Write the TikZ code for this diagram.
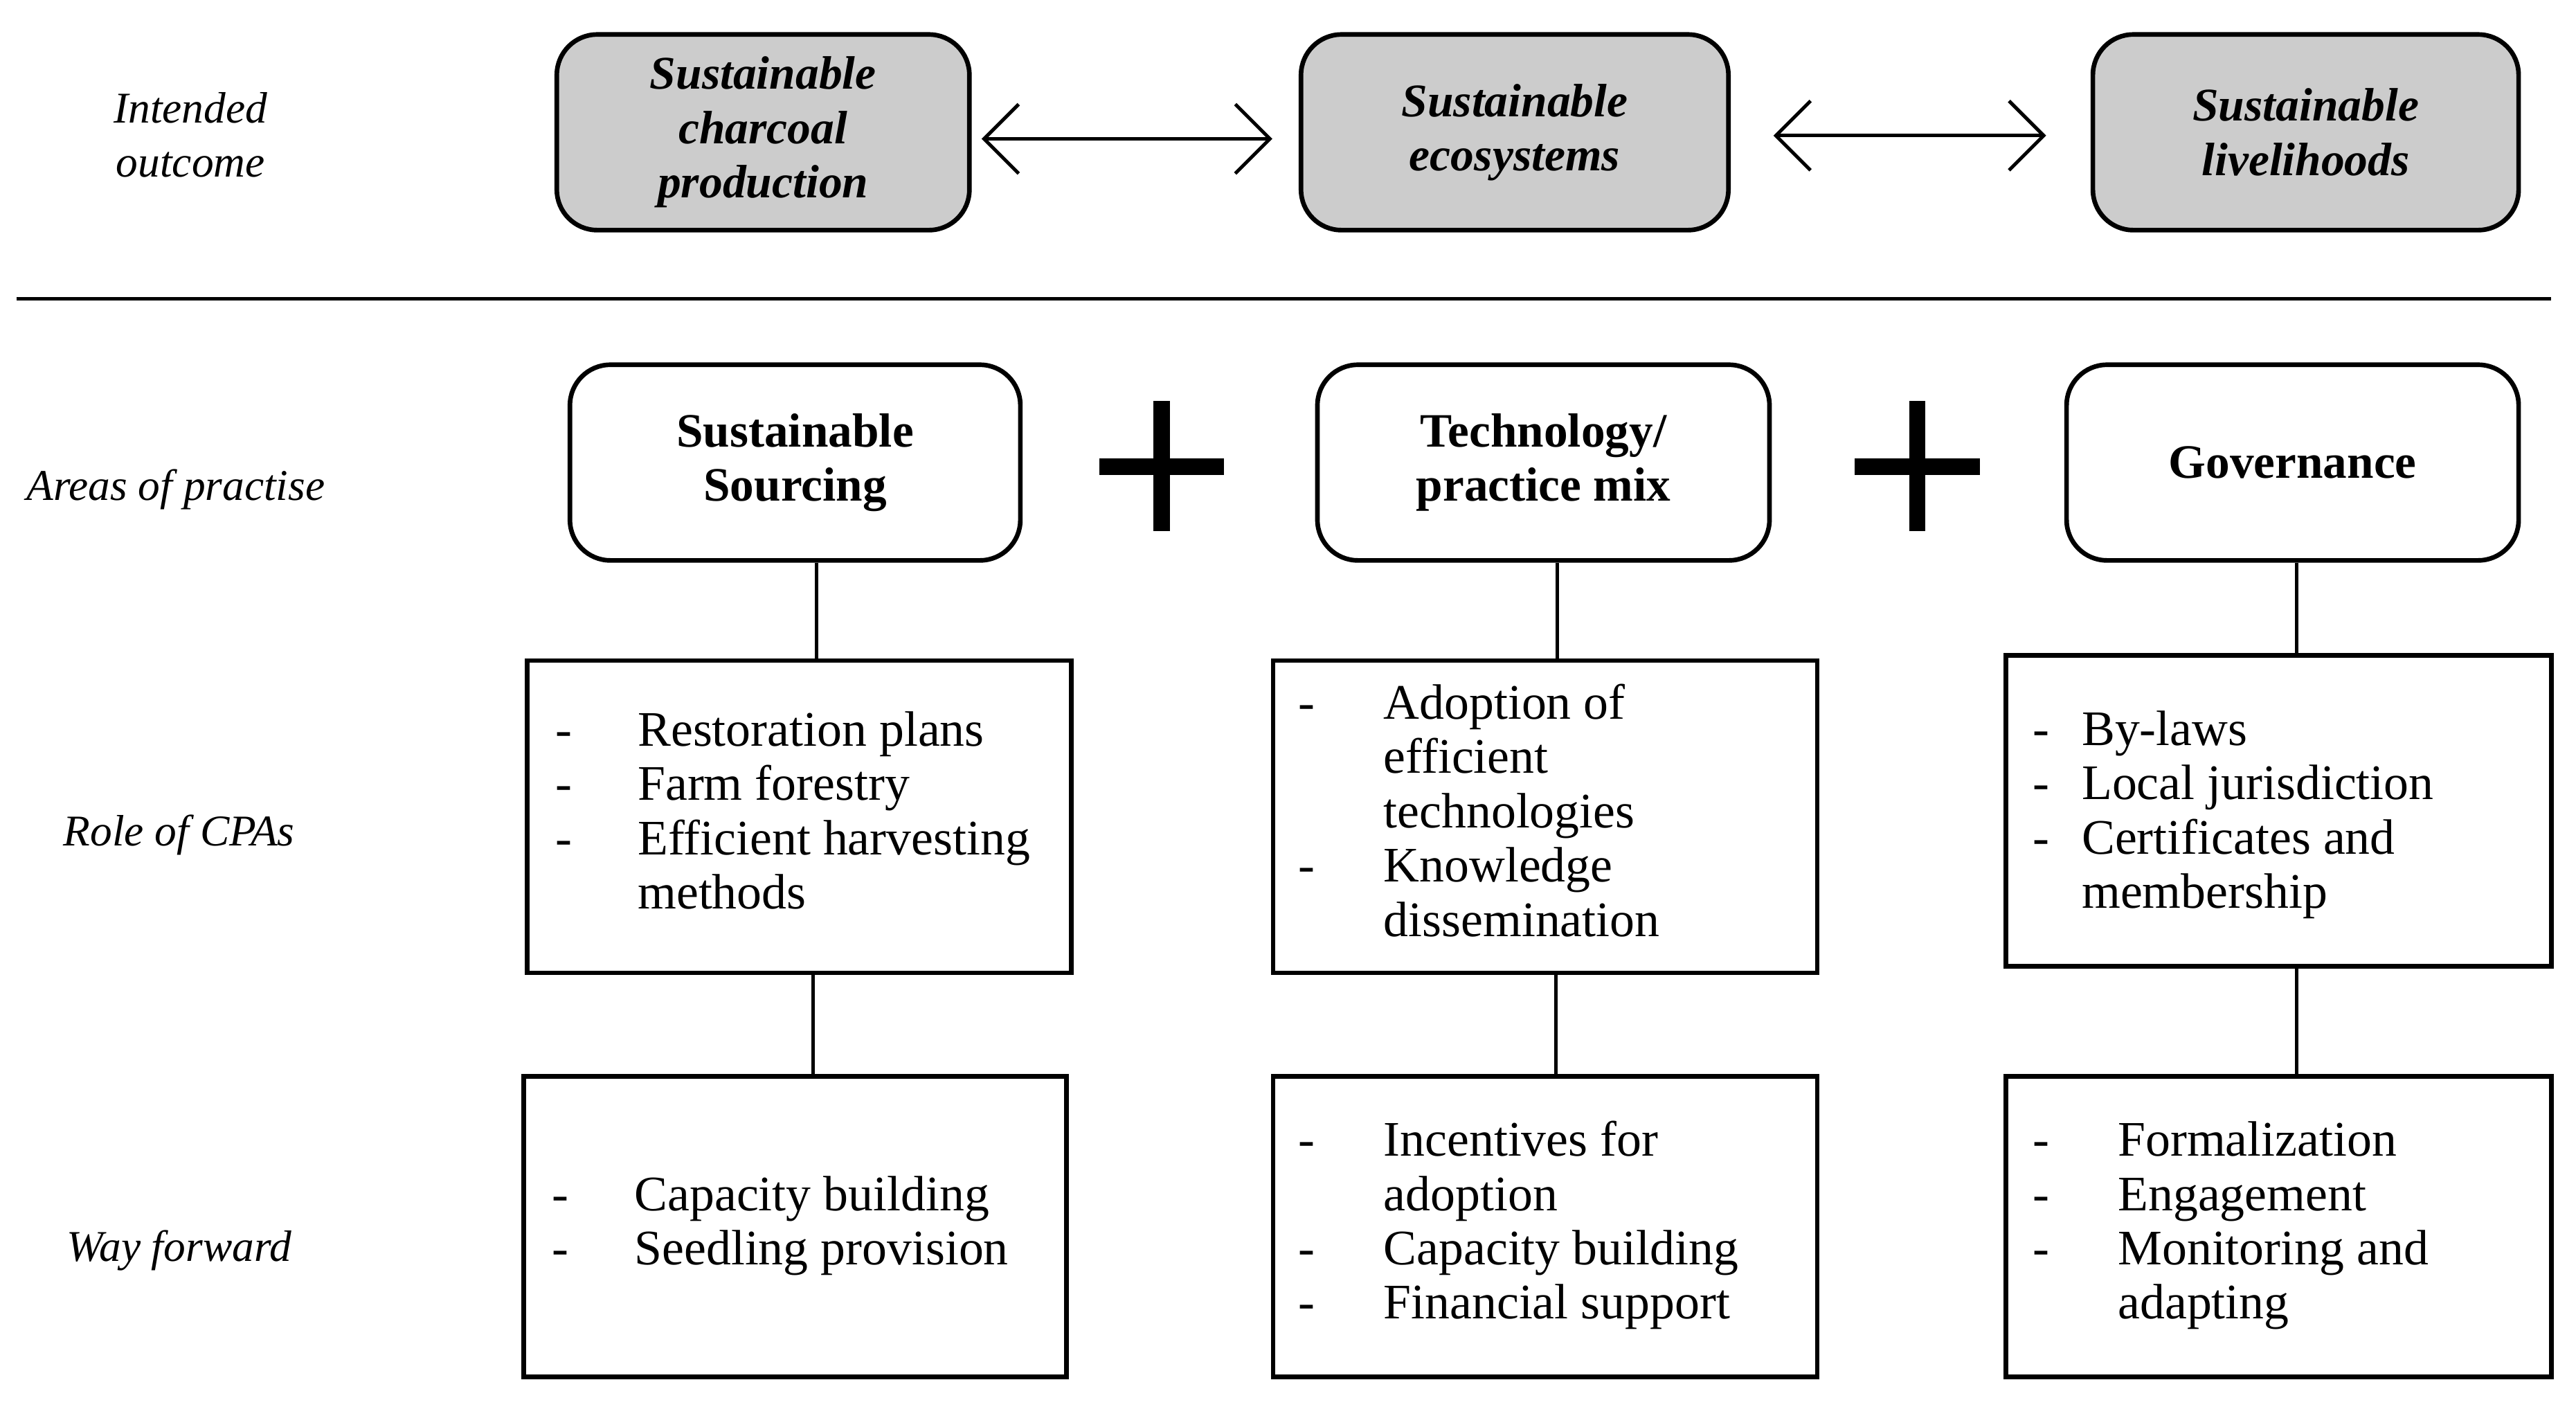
\documentclass[tikz,border=0pt]{standalone}
\usepackage{fontspec}
\setmainfont{Liberation Serif}
\usetikzlibrary{arrows.meta}
\begin{document}
\begin{tikzpicture}[x=0.01cm,y=-0.01cm,
  every node/.style={font=\fontsize{8.6}{9.4}\selectfont, inner sep=0pt},
  gbox/.style={draw, line width=0.8pt, rounded corners=7pt, fill=black!20, align=center, font=\fontsize{8.1}{9.4}\selectfont\bfseries\itshape},
  abox/.style={draw, line width=0.8pt, rounded corners=7pt, align=center, font=\fontsize{8.3}{9.4}\selectfont\bfseries},
  lbox/.style={draw, line width=0.8pt},
  lab/.style={font=\fontsize{7.6}{9.4}\selectfont\itshape, align=center},
  conn/.style={line width=0.6pt},
  dbl/.style={line width=0.6pt, {Straight Barb[length=6pt,width=12pt]}-{Straight Barb[length=6pt,width=12pt]}}]
\useasboundingbox (0,0) rectangle (1568,856);
% top row
\node[gbox, minimum width=2.51cm, minimum height=1.19cm] (g1) at (464.5,80.5) {Sustainable\\charcoal\\production};
\node[gbox, minimum width=2.60cm, minimum height=1.19cm] (g2) at (922,80.5) {Sustainable\\ecosystems};
\node[gbox, minimum width=2.59cm, minimum height=1.19cm] (g3) at (1403.5,80.5) {Sustainable\\livelihoods};
\draw[dbl] (g1.east)++(6,4) -- ++(177,0);
\draw[dbl] (g2.east)++(26,2) -- ++(166,0);
\node[lab] (l1) at (116,82) {Intended\\outcome};
\draw[line width=0.6pt] (10,182) -- (1553,182);
% areas
\node[abox, minimum width=2.74cm, minimum height=1.19cm] (a1) at (484,281.5) {Sustainable\\Sourcing};
\node[abox, minimum width=2.75cm, minimum height=1.19cm] (a2) at (939.5,281.5) {Technology/\\practice mix};
\node[abox, minimum width=2.75cm, minimum height=1.19cm] (a3) at (1395.5,281.5) {Governance};
\foreach \x in {707,1167}{
  \fill (\x-38,279) rectangle (\x+38,289);
  \fill (\x-5,244) rectangle (\x+5,323);
}
\node[lab] (l2) at (107,298) {Areas of practise};
\node[lab] (l3) at (109,508) {Role of CPAs};
\node[lab] (l4) at (109,761) {Way forward};
% role boxes
\node[lbox, minimum width=3.31cm, minimum height=1.90cm] (r1) at (486.5,497) {};
\node[lbox, minimum width=3.31cm, minimum height=1.90cm] (r2) at (940.5,497) {};
\node[lbox, minimum width=3.32cm, minimum height=1.89cm] (r3) at (1387,493.5) {};
\node[lbox, minimum width=3.30cm, minimum height=1.83cm] (w1) at (484,746.5) {};
\node[lbox, minimum width=3.31cm, minimum height=1.83cm] (w2) at (940.5,746.5) {};
\node[lbox, minimum width=3.32cm, minimum height=1.83cm] (w3) at (1387,746.5) {};
\draw[conn] (a1.south -| 497,0) -- (r1.north -| 497,0);
\draw[conn] (a2.south -| 948,0) -- (r2.north -| 948,0);
\draw[conn] (a3.south -| 1398,0) -- (r3.north -| 1398,0);
\draw[conn] (r1.south -| 495,0) -- (w1.north -| 495,0);
\draw[conn] (r2.south -| 947,0) -- (w2.north -| 947,0);
\draw[conn] (r3.south -| 1398,0) -- (w3.north -| 1398,0);
% lists
\newcommand{\lst}[2]{\begin{tabular}{@{}p{#1}@{}l@{}}#2\end{tabular}}
\node[anchor=west] (t1) at (r1.west) [xshift=0.18cm] {\lst{0.5cm}{-&Restoration plans\\-&Farm forestry\\-&Efficient harvesting\\&methods}};
\node[anchor=west] (t2) at (r2.west) [xshift=0.16cm] {\lst{0.52cm}{-&Adoption of\\&efficient\\&technologies\\-&Knowledge\\&dissemination}};
\node[anchor=west] (t3) at (r3.west) [xshift=0.17cm, yshift=-0.03cm] {\lst{0.3cm}{-&By-laws\\-&Local jurisdiction\\-&Certificates and\\&membership}};
\node[anchor=west] (t4) at (w1.west) [xshift=0.18cm] {\lst{0.5cm}{-&Capacity building\\-&Seedling provision}};
\node[anchor=west] (t5) at (w2.west) [xshift=0.16cm] {\lst{0.52cm}{-&Incentives for\\&adoption\\-&Capacity building\\-&Financial support}};
\node[anchor=west] (t6) at (w3.west) [xshift=0.17cm] {\lst{0.52cm}{-&Formalization\\-&Engagement\\-&Monitoring and\\&adapting}};
\end{tikzpicture}
\end{document}
